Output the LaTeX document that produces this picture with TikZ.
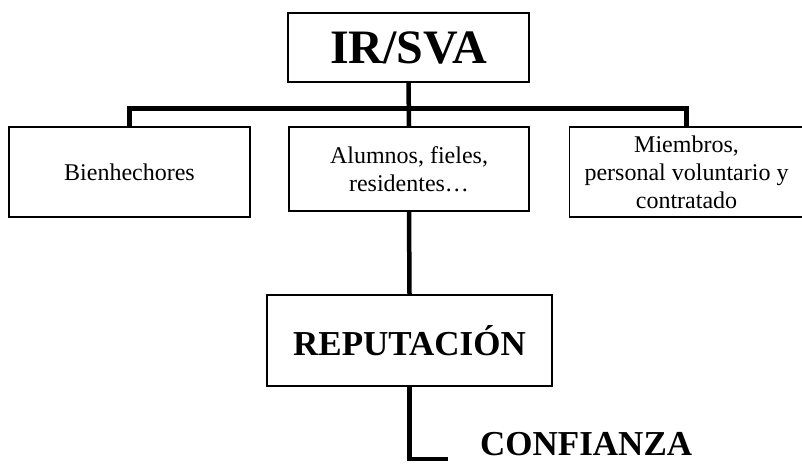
\documentclass[tikz,border=0pt]{standalone}
\usepackage{fontspec}
\setmainfont{Liberation Serif}
\usetikzlibrary{calc}
\tikzset{
  box/.style = {draw=#1, line width=1.3pt, rectangle, align=center, inner sep=0pt},
  conn/.style = {color=#1, line width=4.5pt},
  small/.style = {font=\fontsize{24}{28}\selectfont},
  big/.style = {font=\bfseries\fontsize{35}{42}\selectfont}
}

\begin{document}
\begin{tikzpicture}[x=1pt, y=-1pt]

    \useasboundingbox (0,0) rectangle (802,463);

    % Boxes
    \node[box={black}, minimum width=241pt, minimum height=69pt,
          font=\bfseries\fontsize{48}{56}\selectfont] (sva) at (408.5,47.5) {IR/SVA};
    \node[box={black}, small, minimum width=241pt, minimum height=90pt] (bien) at (129.5,172) {Bienhechores};
    \node[box={black}, small, minimum width=240pt, minimum height=84pt] (alum) at (409,169) {Alumnos, fieles,\\residentes…};
    \node[box={black}, small, minimum width=234pt, minimum height=90pt] (miem) at (686.5,172) {Miembros,\\personal voluntario y\\contratado};
    \node[box={black}, big, minimum width=285pt, minimum height=91pt] (rep) at (409.5,340.5) {REPUTACIÓN};
    \node[big, anchor=base west, inner sep=0pt] (conf) at (480,455) {CONFIANZA};

    % Connectors
    \coordinate (tail) at (448,459);
    \draw[conn={black}] (sva.south) -- (alum.north);
    \draw[conn={black}] (bien.north) -- ++(0,-18) -| (miem.north);
    \draw[conn={black}] (alum.south) -- (rep.north);
    \draw[conn={black}] (rep.south) |- (tail);

\end{tikzpicture}
\end{document}
